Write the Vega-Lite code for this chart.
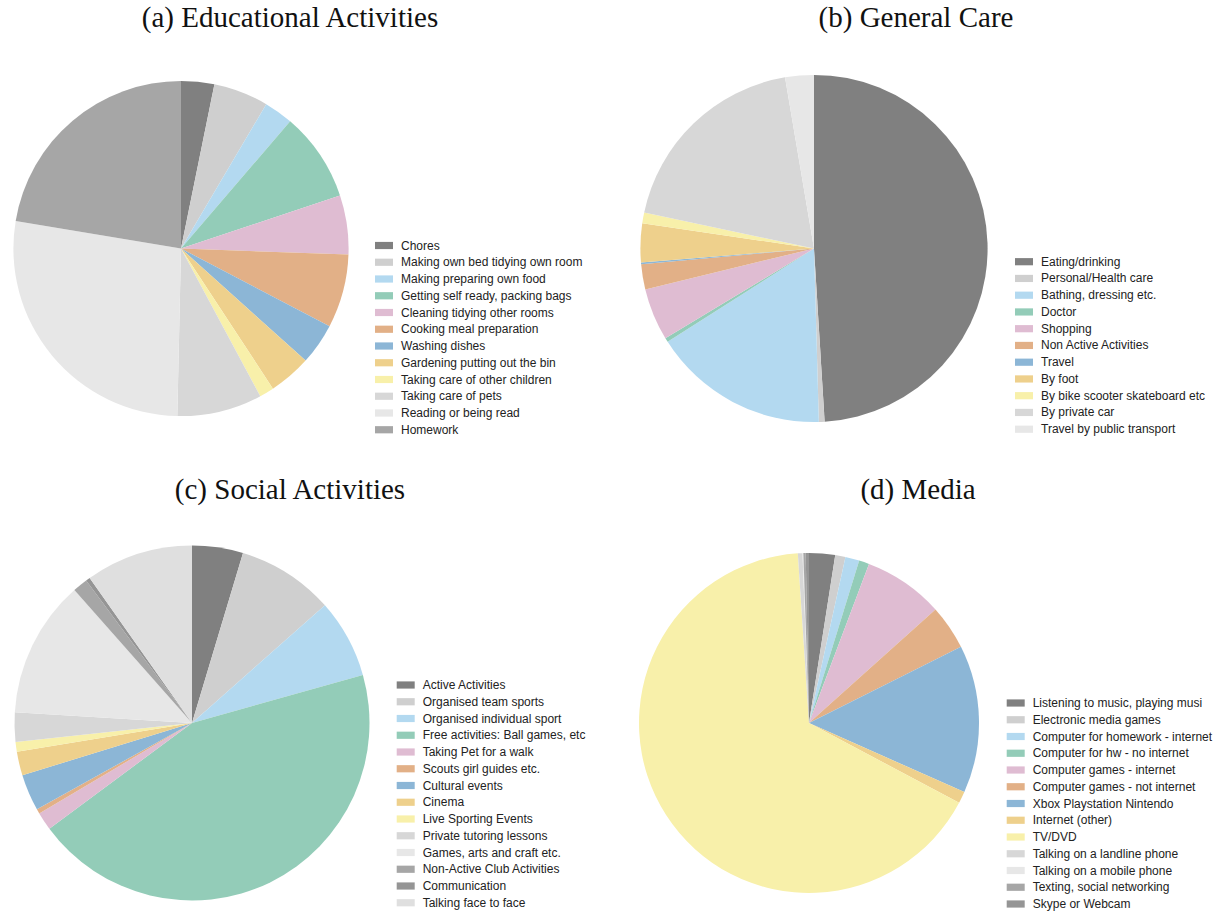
{
  "$schema": "https://vega.github.io/schema/vega-lite/v6.json",
  "padding": {"left": 0, "top": 3.5, "right": 0, "bottom": 0},
  "autosize": {"type": "pad"},
  "background": "white",
  "columns": 2,
  "bounds": "flush",
  "spacing": {"row": 134.5, "column": 247},
  "resolve": {"scale": {"color": "independent", "theta": "independent"}, "legend": {"color": "independent"}},
  "config": {
    "view": {"stroke": null},
    "title": {"font": "Liberation Serif", "fontSize": 29, "fontWeight": "normal", "color": "#111", "anchor": "middle", "frame": "group", "baseline": "alphabetic"},
    "legend": {"orient": "none", "title": null, "padding": 0, "labelFont": "Liberation Sans", "labelFontSize": 12, "labelColor": "#222", "labelLimit": 400, "symbolType": "M-1,-0.4H1V0.4H-1Z", "symbolSize": 324, "symbolStrokeWidth": 0, "symbolOpacity": 1, "labelOffset": 8, "rowPadding": 1.75}
  },
  "concat": [
    {
      "title": {"text": "(a) Educational Activities", "dx": 109, "offset": 45.3},
      "width": 362, "height": 340,
      "data": {"values": [
        {"idx": 1, "cat": "Chores", "value": 3.2},
        {"idx": 2, "cat": "Making own bed  tidying own room", "value": 5.3},
        {"idx": 3, "cat": "Making  preparing own food", "value": 2.8},
        {"idx": 4, "cat": "Getting self ready, packing bags", "value": 8.6},
        {"idx": 5, "cat": "Cleaning  tidying other rooms", "value": 5.7},
        {"idx": 6, "cat": "Cooking  meal preparation", "value": 7.1},
        {"idx": 7, "cat": "Washing dishes", "value": 4.0},
        {"idx": 8, "cat": "Gardening  putting out the bin", "value": 4.1},
        {"idx": 9, "cat": "Taking care of other children", "value": 1.4},
        {"idx": 10, "cat": "Taking care of pets", "value": 8.2},
        {"idx": 11, "cat": "Reading or being read", "value": 27.3},
        {"idx": 12, "cat": "Homework", "value": 22.4}
      ]},
      "mark": {"type": "arc", "radius": 167.6},
      "encoding": {
        "theta": {"field": "value", "type": "quantitative", "stack": true},
        "order": {"field": "idx", "type": "quantitative"},
        "color": {"field": "cat", "type": "nominal",
          "scale": {"domain": ["Chores", "Making own bed  tidying own room", "Making  preparing own food", "Getting self ready, packing bags", "Cleaning  tidying other rooms", "Cooking  meal preparation", "Washing dishes", "Gardening  putting out the bin", "Taking care of other children", "Taking care of pets", "Reading or being read", "Homework"],
            "range": ["#808080", "#cfcfcf", "#b3d9f0", "#93ccb8", "#dfbcd2", "#e2b087", "#8cb6d6", "#eed08c", "#f8f0aa", "#d7d7d7", "#e7e7e7", "#a6a6a6"]},
          "legend": {"legendX": 375, "legendY": 158}}
      }
    },
    {
      "title": {"text": "(b) General Care", "dx": 102, "offset": 41.7},
      "width": 366, "height": 340,
      "data": {"values": [
        {"idx": 1, "cat": "Eating/drinking", "value": 49.0},
        {"idx": 2, "cat": "Personal/Health care", "value": 0.53},
        {"idx": 3, "cat": "Bathing, dressing etc.", "value": 16.4},
        {"idx": 4, "cat": "Doctor", "value": 0.39},
        {"idx": 5, "cat": "Shopping", "value": 4.86},
        {"idx": 6, "cat": "Non Active Activities", "value": 2.33},
        {"idx": 7, "cat": "Travel", "value": 0.17},
        {"idx": 8, "cat": "By foot", "value": 3.6},
        {"idx": 9, "cat": "By bike  scooter  skateboard etc", "value": 1.0},
        {"idx": 10, "cat": "By private car", "value": 19.0},
        {"idx": 11, "cat": "Travel by public transport", "value": 2.67}
      ]},
      "mark": {"type": "arc", "radius": 173.6},
      "encoding": {
        "theta": {"field": "value", "type": "quantitative", "stack": true},
        "order": {"field": "idx", "type": "quantitative"},
        "color": {"field": "cat", "type": "nominal",
          "scale": {"domain": ["Eating/drinking", "Personal/Health care", "Bathing, dressing etc.", "Doctor", "Shopping", "Non Active Activities", "Travel", "By foot", "By bike  scooter  skateboard etc", "By private car", "Travel by public transport"],
            "range": ["#808080", "#cfcfcf", "#b3d9f0", "#93ccb8", "#dfbcd2", "#e2b087", "#8cb6d6", "#eed08c", "#f8f0aa", "#d7d7d7", "#e7e7e7"]},
          "legend": {"legendX": 384, "legendY": 174.2}}
      }
    },
    {
      "title": {"text": "(c) Social Activities", "dx": 98, "offset": 40.7},
      "width": 384, "height": 340,
      "data": {"values": [
        {"idx": 1, "cat": "Active Activities", "value": 4.64},
        {"idx": 2, "cat": "Organised team sports", "value": 8.83},
        {"idx": 3, "cat": "Organised individual sport", "value": 7.17},
        {"idx": 4, "cat": "Free activities: Ball games, etc", "value": 44.22},
        {"idx": 5, "cat": "Taking Pet for a walk", "value": 1.64},
        {"idx": 6, "cat": "Scouts  girl guides  etc.", "value": 0.42},
        {"idx": 7, "cat": "Cultural events", "value": 3.33},
        {"idx": 8, "cat": "Cinema", "value": 2.17},
        {"idx": 9, "cat": "Live Sporting Events", "value": 0.89},
        {"idx": 10, "cat": "Private tutoring lessons", "value": 2.67},
        {"idx": 11, "cat": "Games, arts and craft  etc.", "value": 12.5},
        {"idx": 12, "cat": "Non-Active Club Activities", "value": 1.36},
        {"idx": 13, "cat": "Communication", "value": 0.39},
        {"idx": 14, "cat": "Talking face to face", "value": 9.78}
      ]},
      "mark": {"type": "arc", "radius": 177.5},
      "encoding": {
        "theta": {"field": "value", "type": "quantitative", "stack": true},
        "order": {"field": "idx", "type": "quantitative"},
        "color": {"field": "cat", "type": "nominal",
          "scale": {"domain": ["Active Activities", "Organised team sports", "Organised individual sport", "Free activities: Ball games, etc", "Taking Pet for a walk", "Scouts  girl guides  etc.", "Cultural events", "Cinema", "Live Sporting Events", "Private tutoring lessons", "Games, arts and craft  etc.", "Non-Active Club Activities", "Communication", "Talking face to face"],
            "range": ["#808080", "#cfcfcf", "#b3d9f0", "#93ccb8", "#dfbcd2", "#e2b087", "#8cb6d6", "#eed08c", "#f8f0aa", "#d7d7d7", "#e7e7e7", "#a6a6a6", "#959595", "#dfdfdf"]},
          "legend": {"legendX": 396.7, "legendY": 123}}
      }
    },
    {
      "title": {"text": "(d) Media", "dx": 109, "offset": 48.5},
      "width": 356, "height": 340,
      "data": {"values": [
        {"idx": 1, "cat": "Listening to music, playing musi", "value": 2.47},
        {"idx": 2, "cat": "Electronic media  games", "value": 0.97},
        {"idx": 3, "cat": "Computer for homework - internet", "value": 1.33},
        {"idx": 4, "cat": "Computer for hw - no internet", "value": 0.97},
        {"idx": 5, "cat": "Computer games - internet", "value": 7.61},
        {"idx": 6, "cat": "Computer games - not internet", "value": 4.25},
        {"idx": 7, "cat": "Xbox  Playstation  Nintendo", "value": 14.06},
        {"idx": 8, "cat": "Internet (other)", "value": 1.11},
        {"idx": 9, "cat": "TV/DVD", "value": 66.17},
        {"idx": 10, "cat": "Talking on a landline phone", "value": 0.44},
        {"idx": 11, "cat": "Talking on a mobile phone", "value": 0.08},
        {"idx": 12, "cat": "Texting, social networking", "value": 0.22},
        {"idx": 13, "cat": "Skype or Webcam", "value": 0.31}
      ]},
      "mark": {"type": "arc", "radius": 170},
      "encoding": {
        "theta": {"field": "value", "type": "quantitative", "stack": true},
        "order": {"field": "idx", "type": "quantitative"},
        "color": {"field": "cat", "type": "nominal",
          "scale": {"domain": ["Listening to music, playing musi", "Electronic media  games", "Computer for homework - internet", "Computer for hw - no internet", "Computer games - internet", "Computer games - not internet", "Xbox  Playstation  Nintendo", "Internet (other)", "TV/DVD", "Talking on a landline phone", "Talking on a mobile phone", "Texting, social networking", "Skype or Webcam"],
            "range": ["#808080", "#cfcfcf", "#b3d9f0", "#93ccb8", "#dfbcd2", "#e2b087", "#8cb6d6", "#eed08c", "#f8f0aa", "#d7d7d7", "#e7e7e7", "#a6a6a6", "#959595"]},
          "legend": {"legendX": 375.7, "legendY": 141}}
      }
    }
  ]
}
